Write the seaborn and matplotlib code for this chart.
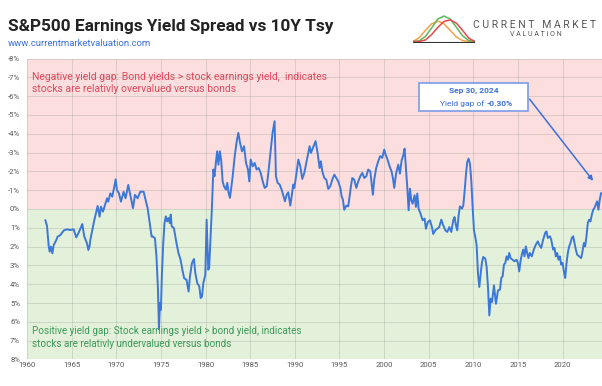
import pandas as pd
import matplotlib
matplotlib.use("Agg")
import matplotlib.pyplot as plt
import seaborn as sns
from matplotlib.patches import Rectangle

# S&P500 earnings yield minus 10Y treasury yield (%)
years = [
    1962.05, 1962.24, 1962.43, 1962.54, 1962.69, 1962.84, 1962.99, 1963.28, 1963.43, 1963.73,
    1964.10, 1964.48, 1964.85, 1965.22, 1965.52, 1965.78, 1966.04, 1966.19, 1966.42, 1966.72,
    1966.87, 1967.01, 1967.09, 1967.31, 1967.54, 1967.76, 1967.91, 1968.13, 1968.28, 1968.51,
    1968.73, 1968.96, 1969.10, 1969.33, 1969.55, 1969.78, 1969.93, 1970.07, 1970.30, 1970.52,
    1970.82, 1971.04, 1971.34, 1971.57, 1971.87, 1972.09, 1972.39, 1972.69, 1973.06, 1973.28,
    1973.51, 1973.81, 1973.96, 1974.07, 1974.33, 1974.50, 1974.67, 1974.78, 1974.89, 1975.00,
    1975.10, 1975.26, 1975.40, 1975.55, 1975.70, 1975.85, 1976.00, 1976.10, 1976.20, 1976.45,
    1976.74, 1976.96, 1977.20, 1977.40, 1977.60, 1977.87, 1978.10, 1978.25, 1978.47, 1978.70,
    1978.85, 1979.07, 1979.30, 1979.45, 1979.60, 1979.75, 1979.97, 1980.12, 1980.20, 1980.30,
    1980.40, 1980.56, 1980.70, 1980.87, 1981.00, 1981.17, 1981.30, 1981.44, 1981.60, 1981.76,
    1981.91, 1982.06, 1982.28, 1982.43, 1982.58, 1982.73, 1982.90, 1983.04, 1983.26, 1983.49,
    1983.67, 1983.86, 1984.08, 1984.31, 1984.53, 1984.75, 1984.90, 1985.05, 1985.28, 1985.50,
    1985.72, 1985.95, 1986.17, 1986.40, 1986.62, 1986.85, 1987.07, 1987.30, 1987.50, 1987.73,
    1987.88, 1988.07, 1988.30, 1988.52, 1988.74, 1988.89, 1989.08, 1989.26, 1989.49, 1989.64,
    1989.82, 1989.94, 1990.16, 1990.39, 1990.61, 1990.83, 1991.06, 1991.28, 1991.50, 1991.65,
    1991.80, 1992.03, 1992.17, 1992.32, 1992.55, 1992.77, 1992.92, 1993.07, 1993.30, 1993.52,
    1993.74, 1993.97, 1994.19, 1994.42, 1994.64, 1994.86, 1995.09, 1995.24, 1995.38, 1995.53,
    1995.76, 1995.98, 1996.13, 1996.28, 1996.43, 1996.65, 1996.88, 1997.10, 1997.33, 1997.55,
    1997.77, 1998.00, 1998.22, 1998.45, 1998.59, 1998.74, 1998.89, 1999.11, 1999.34, 1999.56,
    1999.79, 2000.01, 2000.16, 2000.38, 2000.61, 2000.83, 2000.98, 2001.13, 2001.35, 2001.58,
    2001.77, 2001.96, 2002.14, 2002.29, 2002.44, 2002.59, 2002.74, 2002.89, 2003.04, 2003.19,
    2003.41, 2003.56, 2003.71, 2003.86, 2004.08, 2004.31, 2004.53, 2004.68, 2004.90, 2005.13,
    2005.35, 2005.50, 2005.73, 2005.95, 2006.17, 2006.40, 2006.62, 2006.85, 2007.07, 2007.30,
    2007.52, 2007.74, 2007.89, 2008.04, 2008.19, 2008.34, 2008.49, 2008.72, 2008.87, 2009.02,
    2009.17, 2009.31, 2009.46, 2009.61, 2009.76, 2009.91, 2010.06, 2010.21, 2010.36, 2010.51,
    2010.66, 2010.81, 2010.96, 2011.10, 2011.33, 2011.48, 2011.63, 2011.78, 2011.93, 2012.08,
    2012.30, 2012.52, 2012.75, 2012.97, 2013.12, 2013.27, 2013.42, 2013.57, 2013.71, 2013.86,
    2014.01, 2014.16, 2014.38, 2014.60, 2014.83, 2014.98, 2015.13, 2015.27, 2015.42, 2015.57,
    2015.72, 2015.87, 2016.02, 2016.16, 2016.31, 2016.54, 2016.76, 2016.99, 2017.21, 2017.36,
    2017.59, 2017.81, 2018.03, 2018.18, 2018.33, 2018.56, 2018.71, 2018.93, 2019.08, 2019.23,
    2019.38, 2019.53, 2019.68, 2019.83, 2019.98, 2020.13, 2020.28, 2020.43, 2020.57, 2020.72,
    2020.87, 2021.02, 2021.17, 2021.32, 2021.47, 2021.62, 2021.84, 2022.07, 2022.22, 2022.37,
    2022.51, 2022.66, 2022.81, 2022.96, 2023.11, 2023.26, 2023.41, 2023.55, 2023.70, 2023.85,
    2024.00, 2024.15, 2024.30,
]
gap = [
    0.59, 0.90, 1.97, 2.27, 2.00, 2.36, 1.92, 1.65, 1.47, 1.39,
    1.15, 1.08, 1.12, 1.08, 1.51, 1.26, 0.98, 0.80, 1.47, 1.83,
    2.18, 1.97, 1.65, 1.12, 0.59, 0.14, -0.16, 0.41, -0.12, 0.14,
    -0.21, -0.57, -0.39, -0.83, -0.66, -1.19, -1.58, -1.01, -0.83, -0.39,
    -0.92, -0.57, -1.28, -0.75, -0.04, -0.75, -0.57, -0.92, -0.92, -0.48,
    -0.04, 0.94, 1.47, 1.46, 1.55, 2.52, 4.30, 6.40, 5.00, 5.36,
    3.59, 1.81, 0.75, 0.39, 0.66, 0.48, 0.75, 0.30, 0.92, 1.01,
    1.81, 2.34, 2.70, 3.23, 3.68, 3.77, 4.39, 3.59, 2.88, 2.66,
    3.41, 3.94, 4.12, 4.74, 4.65, 3.94, 3.50, 0.57, 1.81, 3.23,
    3.14, 1.46, 0.04, -2.10, -1.74, -2.54, -3.07, -2.36, -3.07, -2.54,
    -1.47, -1.21, -1.03, -1.39, -0.85, -0.59, -1.21, -1.74, -2.80, -3.60,
    -4.05, -3.52, -3.07, -3.34, -2.45, -2.10, -1.47, -2.63, -2.27, -2.45,
    -2.10, -2.18, -1.92, -1.47, -1.12, -1.21, -2.10, -3.16, -4.05, -4.67,
    -1.74, -1.39, -1.30, -1.03, -0.67, -0.41, -0.76, -0.89, -0.18, -0.67,
    -1.30, -1.12, -1.83, -2.63, -2.27, -1.60, -1.92, -2.45, -2.98, -3.34,
    -2.98, -3.25, -3.43, -3.61, -2.98, -2.18, -2.54, -2.00, -1.65, -1.56,
    -1.07, -1.21, -1.56, -1.83, -1.65, -1.47, -1.12, -0.67, -0.50, 0.04,
    -0.18, -0.14, -0.67, -1.21, -1.65, -1.56, -1.12, -1.47, -1.74, -1.92,
    -1.65, -1.74, -2.10, -2.00, -1.39, -0.76, -1.56, -2.18, -2.54, -2.81,
    -2.72, -3.16, -2.90, -2.63, -2.27, -2.00, -1.65, -1.12, -1.92, -2.36,
    -1.88, -2.59, -2.85, -3.21, -2.23, -1.17, 0.07, -1.08, -0.46, -0.28,
    -0.73, -0.11, -0.82, -0.02, 0.25, 0.60, 0.51, 1.05, 0.69, 0.60,
    0.96, 1.33, 1.13, 1.05, 0.96, 0.57, 0.87, 1.13, 1.22, 0.96,
    1.22, 0.60, 0.43, 0.87, 1.13, 0.34, -0.14, -0.02, -0.20, -0.99,
    -1.88, -2.50, -2.68, -2.41, -1.52, -0.11, 1.13, 1.49, 1.93, 3.44,
    4.15, 3.44, 2.82, 2.55, 2.64, 3.09, 4.15, 5.66, 4.77, 4.95,
    4.06, 5.04, 4.33, 4.29, 3.67, 3.58, 2.96, 2.87, 2.52, 2.70,
    2.34, 2.61, 2.70, 2.78, 2.70, 2.87, 3.32, 2.78, 2.43, 2.16,
    2.52, 1.99, 2.34, 2.61, 2.34, 2.52, 2.16, 1.90, 1.72, 1.90,
    2.07, 1.63, 1.28, 1.19, 1.54, 1.45, 1.63, 2.16, 2.07, 2.52,
    2.34, 2.70, 2.52, 2.96, 2.87, 3.32, 3.67, 2.87, 2.34, 1.99,
    1.81, 1.54, 1.45, 1.81, 2.16, 2.43, 2.52, 2.61, 2.25, 1.81,
    1.99, 1.45, 0.74, 0.57, 0.66, 0.30, 0.04, -0.05, -0.23, -0.41,
    0.04, -0.50, -0.85,
]

x_ticks = list(range(1960, 2021, 5))
y_ticks = list(range(-8, 9))

# logo bell curves (orange, green, red)
logo_x = [0, 1, 2, 3, 4, 5, 6, 7, 8, 9, 10]
logo_orange = [0.05, 0.18, 0.42, 0.64, 0.73, 0.64, 0.42, 0.2, 0.08, 0.05, 0.05]
logo_green = [0.05, 0.07, 0.22, 0.5, 0.8, 0.9, 0.8, 0.52, 0.24, 0.08, 0.05]
logo_red = [0.05, 0.05, 0.1, 0.28, 0.52, 0.72, 0.77, 0.66, 0.42, 0.16, 0.05]

df = pd.DataFrame({"Date": years, "Yield Gap": gap})

sns.set_style("white")
plt.rcParams["font.family"] = ["Roboto", "DejaVu Sans"]

W, H = 602, 386


def fx(px):
    return px / W


def fy(py):
    return 1 - py / H


fig = plt.figure(figsize=(W / 100, H / 100), dpi=100)
ax = fig.add_axes([fx(27), fy(359.4), 575 / W, 300.8 / H])

ax.axhspan(-8, 0, color="#FCDEDE", zorder=0, lw=0)
ax.axhspan(0, 8, color="#E3F0DA", zorder=0, lw=0)
sns.lineplot(data=df, x="Date", y="Yield Gap", ax=ax, color="#3C78D8", lw=1.4, zorder=3)

ax.set_xlim(1960, 2024.4)
ax.set_ylim(8, -8)
ax.set_xticks(x_ticks)
ax.set_xticklabels([str(t) for t in x_ticks])
ax.set_yticks(y_ticks)
ax.set_yticklabels([f"{t}%" for t in y_ticks])
ax.set_axisbelow(True)
ax.grid(True, color="#8a8a8a", alpha=0.3, lw=0.6)
ax.tick_params(axis="both", length=0, labelsize=5.6, labelcolor="#595959")
ax.tick_params(axis="x", pad=2)
ax.tick_params(axis="y", pad=5)
ax.set_xlabel("")
ax.set_ylabel("")
for s in ax.spines.values():
    s.set_visible(False)

# region notes
ax.text(0.009, 0.955, "Negative yield gap: Bond yields > stock earnings yield,  indicates\n"
        "stocks are relativly overvalued versus bonds", transform=ax.transAxes,
        fontsize=7.5, color="#E0485A", va="top", linespacing=1.25)
ax.text(0.009, 0.035, "Positive yield gap: Stock earnings yield > bond yield, indicates\n"
        "stocks are relativly undervalued versus bonds", transform=ax.transAxes,
        fontsize=7.1, color="#3E9A5C", va="bottom", linespacing=1.3)

# callout box
fig.patches.append(Rectangle((fx(419), fy(111)), 109 / W, 28 / H, transform=fig.transFigure,
                             facecolor="white", edgecolor="#7B9BE8", lw=1.2, zorder=5))
fig.text(fx(474), fy(91), "Sep 30, 2024", ha="center", va="center", fontsize=6,
         fontweight="bold", color="#3D6FD9", zorder=6)
fig.text(fx(484), fy(103.5), "Yield gap of", ha="right", va="center", fontsize=6,
         color="#3D6FD9", zorder=6)
fig.text(fx(487), fy(103.5), "-0.30%", ha="left", va="center", fontsize=6,
         fontweight="bold", color="#3D6FD9", zorder=6)
ax.annotate("", xy=(2023.6, -1.38), xytext=(2016.1, -5.96),
            arrowprops=dict(arrowstyle="-|>", color="#3D6FD9", lw=1.1, mutation_scale=7),
            zorder=6)

# title
fig.text(fx(8), fy(26), "S&P500 Earnings Yield Spread vs 10Y Tsy", fontsize=12.4,
         fontweight="bold", color="#222222", va="center")
fig.text(fx(8), fy(43.5), "www.currentmarketvaluation.com", fontsize=6.8,
         color="#3B6FE0", va="center")

# logo
lax = fig.add_axes([fx(413), fy(43), 62 / W, 30 / H])
lax.plot(logo_x, logo_orange, color="#F5A04A", lw=1.1)
lax.plot(logo_x, logo_green, color="#5DB85C", lw=1.1)
lax.plot(logo_x, logo_red, color="#E8474C", lw=1.1)
lax.plot([0, 10], [0.05, 0.05], color="#333333", lw=0.8)
lax.set_xlim(0, 10)
lax.set_ylim(0, 1)
lax.axis("off")
fig.text(fx(473), fy(25), "C U R R E N T   M A R K E T", fontsize=7.5, color="#555555",
         va="center")
fig.text(fx(536), fy(35), "V A L U A T I O N", fontsize=5, color="#555555",
         va="center", ha="center")

fig.savefig("out.png", dpi=100)
